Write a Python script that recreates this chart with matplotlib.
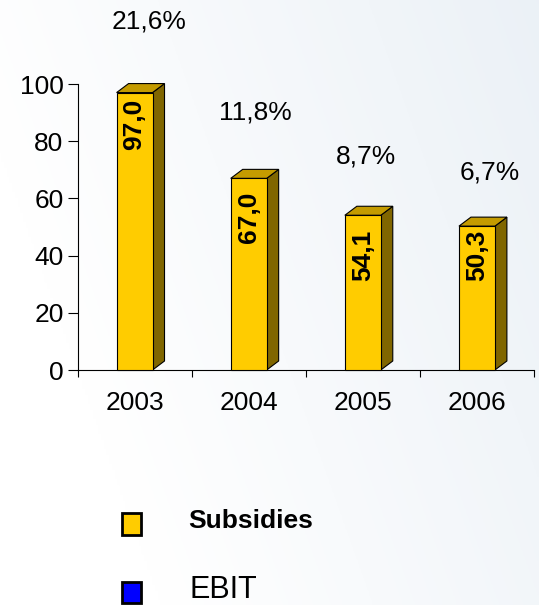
import numpy as np
import matplotlib.pyplot as plt
from matplotlib.patches import Polygon, Rectangle

plt.rcParams['font.family'] = ['Liberation Sans', 'DejaVu Sans']

# === Dados ===
anos = ['2003', '2004', '2005', '2006']
subsidios = [97.0, 67.0, 54.1, 50.3]
rotulos_valor = ['97,0', '67,0', '54,1', '50,3']
percentuais = ['21,6%', '11,8%', '8,7%', '6,7%']

# posições dos rótulos (layout)
pct_x = [0.63, 1.56, 2.53, 3.61]
pct_y = [122, 90.2, 74.5, 69.2]
val_y = [86, 53.5, 40, 40.2]

# cores
amarelo = '#FFCC00'
lateral = '#806600'
topo = '#C49B00'

W, H = 539, 605
fig = plt.figure(figsize=(W / 100, H / 100), dpi=100)

# fundo suave
bg = fig.add_axes([0, 0, 1, 1], zorder=-10)
gx = np.linspace(0, 1, 200)
gy = np.linspace(0, 1, 200)
GX, GY = np.meshgrid(gx, gy)
grad = np.clip(0.5 * GX + 0.2 * (1 - GY) - 0.15, 0, 1)
base = np.array([1.0, 1.0, 1.0])
tint = np.array([0.86, 0.90, 0.94])
img = base[None, None, :] * (1 - grad[..., None]) + tint[None, None, :] * grad[..., None]
bg.imshow(img, extent=[0, 1, 0, 1], aspect='auto', origin='upper')
bg.axis('off')

ax = fig.add_axes([77.5 / W, (H - 370) / H, (534 - 77.5) / W, (370 - 84) / H])
ax.set_facecolor('none')
ax.set_xlim(0, 4)
ax.set_ylim(0, 100)

largura = 0.315
dx = 0.105
dy = 3.15
for i, v in enumerate(subsidios):
    c = i + 0.5
    x0, x1 = c - largura / 2, c + largura / 2
    # lateral
    ax.add_patch(Polygon([[x1, 0], [x1 + dx, dy], [x1 + dx, v + dy], [x1, v]],
                         closed=True, facecolor=lateral, edgecolor='black', lw=0.8,
                         clip_on=False, zorder=3))
    # topo
    ax.add_patch(Polygon([[x0, v], [x0 + dx, v + dy], [x1 + dx, v + dy], [x1, v]],
                         closed=True, facecolor=topo, edgecolor='black', lw=0.8,
                         clip_on=False, zorder=3))
    # frente
    ax.add_patch(Rectangle((x0, 0), largura, v, facecolor=amarelo, edgecolor='black',
                           lw=0.8, clip_on=False, zorder=4))
    ax.text(c, val_y[i], rotulos_valor[i], rotation=90, ha='center', va='center',
            fontsize=19, fontweight='bold', zorder=5)
    ax.text(pct_x[i], pct_y[i], percentuais[i], ha='center', va='center',
            fontsize=19, clip_on=False)

for s in ['top', 'right']:
    ax.spines[s].set_visible(False)
ax.spines['left'].set_linewidth(0.8)
ax.spines['bottom'].set_linewidth(0.8)

ax.set_yticks(range(0, 101, 20))
ax.tick_params(axis='y', direction='out', length=7, width=0.8, labelsize=19, pad=3)
ax.set_xticks([0, 1, 2, 3, 4])
ax.set_xticklabels([])
ax.tick_params(axis='x', direction='out', length=5, width=0.8)
ax.set_xticks([0.5, 1.5, 2.5, 3.5], minor=True)
ax.set_xticklabels(anos, minor=True)
ax.tick_params(axis='x', which='minor', length=0, labelsize=19, pad=15)

# === Legenda ===
def fx(px):
    return px / W

def fy(py):
    return 1 - py / H

fig.patches.append(Rectangle((fx(122), fy(535)), 19 / W, 22 / H, transform=fig.transFigure,
                             facecolor=amarelo, edgecolor='black', lw=2))
fig.text(fx(188), fy(521), 'Subsidies', fontsize=19, fontweight='bold', va='center')
fig.patches.append(Rectangle((fx(122), fy(603)), 19 / W, 21 / H, transform=fig.transFigure,
                             facecolor='#0000FF', edgecolor='black', lw=2))
fig.text(fx(189), fy(590), 'EBIT', fontsize=22, va='center')

fig.savefig('out.png', dpi=100)
